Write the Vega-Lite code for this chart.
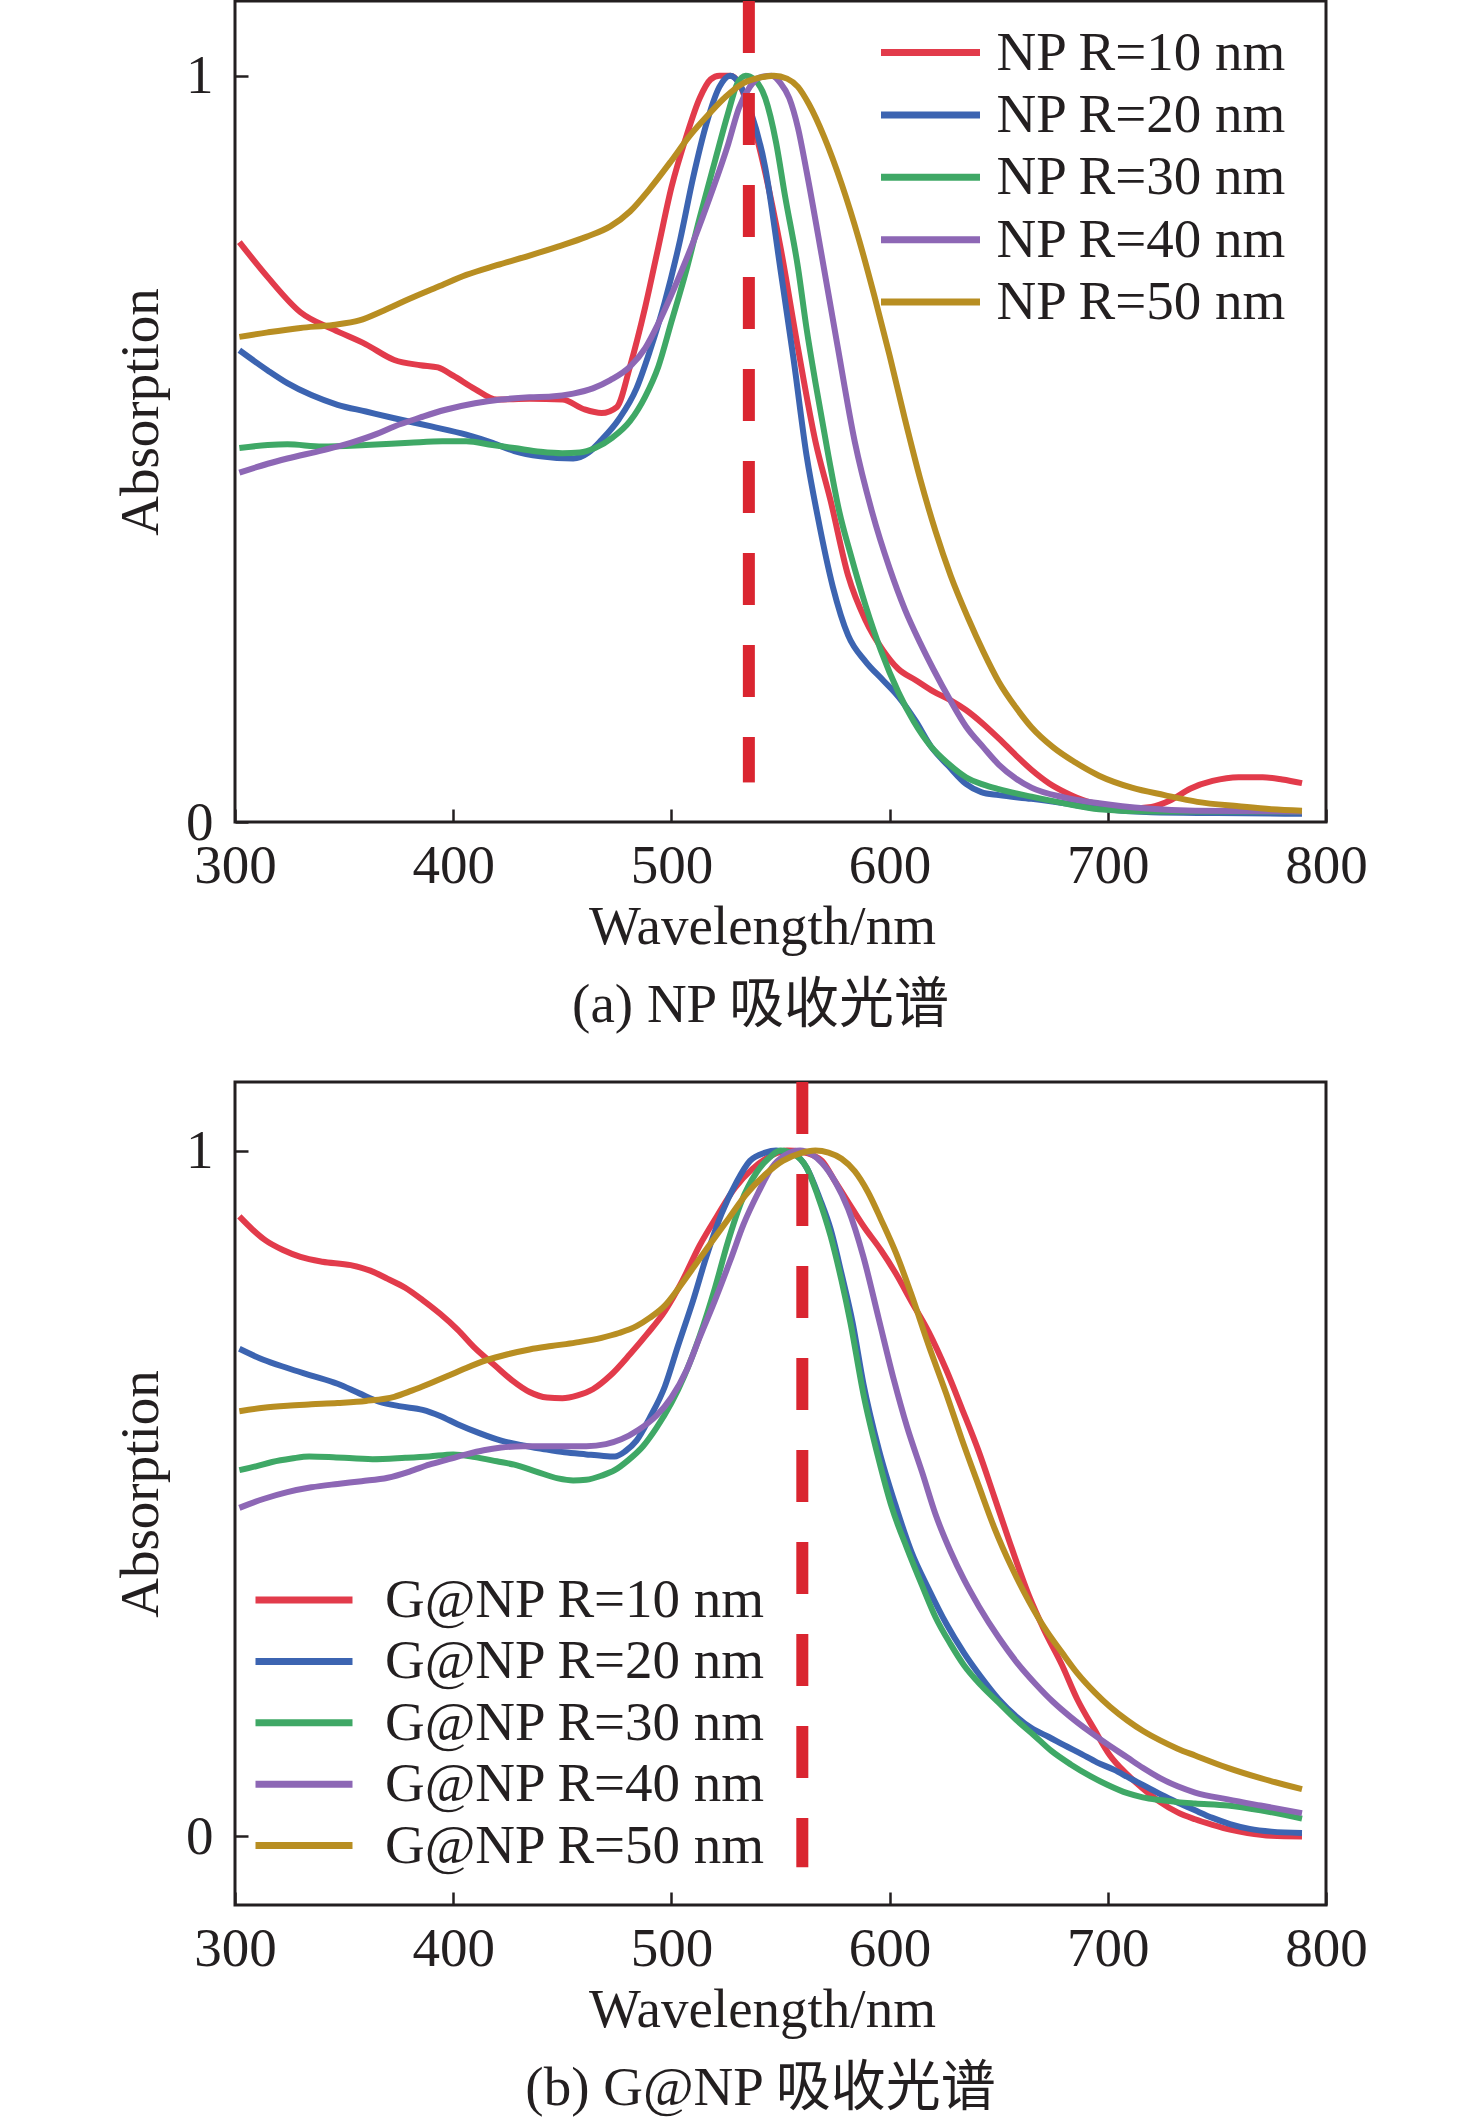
{
  "$schema": "https://vega.github.io/schema/vega-lite/v6.json",
  "description": "Absorption spectra of NP and G@NP particles of different radius, with the peak position marked by a dashed line.",
  "background": "white",
  "padding": {"left": 112, "top": -7, "right": 0, "bottom": 0},
  "datasets": {
    "np": [
      {"s": "NP R=10 nm", "wl": 302, "a": 0.777}, {"s": "NP R=10 nm", "wl": 315, "a": 0.73}, {"s": "NP R=10 nm", "wl": 330, "a": 0.683}, {"s": "NP R=10 nm", "wl": 345, "a": 0.66}, {"s": "NP R=10 nm", "wl": 360, "a": 0.64}, {"s": "NP R=10 nm", "wl": 373, "a": 0.619}, {"s": "NP R=10 nm", "wl": 385, "a": 0.612}, {"s": "NP R=10 nm", "wl": 393, "a": 0.609}, {"s": "NP R=10 nm", "wl": 400, "a": 0.598}, {"s": "NP R=10 nm", "wl": 410, "a": 0.58}, {"s": "NP R=10 nm", "wl": 420, "a": 0.566}, {"s": "NP R=10 nm", "wl": 435, "a": 0.567}, {"s": "NP R=10 nm", "wl": 450, "a": 0.566}, {"s": "NP R=10 nm", "wl": 460, "a": 0.553}, {"s": "NP R=10 nm", "wl": 468, "a": 0.548}, {"s": "NP R=10 nm", "wl": 475, "a": 0.556}, {"s": "NP R=10 nm", "wl": 481, "a": 0.61}, {"s": "NP R=10 nm", "wl": 488, "a": 0.69}, {"s": "NP R=10 nm", "wl": 494, "a": 0.77}, {"s": "NP R=10 nm", "wl": 500, "a": 0.85}, {"s": "NP R=10 nm", "wl": 507, "a": 0.92}, {"s": "NP R=10 nm", "wl": 513, "a": 0.97}, {"s": "NP R=10 nm", "wl": 518, "a": 0.995}, {"s": "NP R=10 nm", "wl": 522, "a": 1.0}, {"s": "NP R=10 nm", "wl": 527, "a": 1.0}, {"s": "NP R=10 nm", "wl": 531, "a": 0.99}, {"s": "NP R=10 nm", "wl": 536, "a": 0.95}, {"s": "NP R=10 nm", "wl": 543, "a": 0.87}, {"s": "NP R=10 nm", "wl": 550, "a": 0.77}, {"s": "NP R=10 nm", "wl": 558, "a": 0.635}, {"s": "NP R=10 nm", "wl": 566, "a": 0.51}, {"s": "NP R=10 nm", "wl": 573, "a": 0.43}, {"s": "NP R=10 nm", "wl": 581, "a": 0.33}, {"s": "NP R=10 nm", "wl": 589, "a": 0.27}, {"s": "NP R=10 nm", "wl": 597, "a": 0.23}, {"s": "NP R=10 nm", "wl": 604, "a": 0.205}, {"s": "NP R=10 nm", "wl": 612, "a": 0.19}, {"s": "NP R=10 nm", "wl": 620, "a": 0.175}, {"s": "NP R=10 nm", "wl": 628, "a": 0.163}, {"s": "NP R=10 nm", "wl": 635, "a": 0.15}, {"s": "NP R=10 nm", "wl": 643, "a": 0.131}, {"s": "NP R=10 nm", "wl": 650, "a": 0.112}, {"s": "NP R=10 nm", "wl": 658, "a": 0.089}, {"s": "NP R=10 nm", "wl": 665, "a": 0.07}, {"s": "NP R=10 nm", "wl": 673, "a": 0.052}, {"s": "NP R=10 nm", "wl": 681, "a": 0.039}, {"s": "NP R=10 nm", "wl": 690, "a": 0.028}, {"s": "NP R=10 nm", "wl": 700, "a": 0.022}, {"s": "NP R=10 nm", "wl": 711, "a": 0.018}, {"s": "NP R=10 nm", "wl": 720, "a": 0.02}, {"s": "NP R=10 nm", "wl": 728, "a": 0.028}, {"s": "NP R=10 nm", "wl": 738, "a": 0.045}, {"s": "NP R=10 nm", "wl": 748, "a": 0.055}, {"s": "NP R=10 nm", "wl": 760, "a": 0.06}, {"s": "NP R=10 nm", "wl": 771, "a": 0.06}, {"s": "NP R=10 nm", "wl": 780, "a": 0.057}, {"s": "NP R=10 nm", "wl": 789, "a": 0.052},
      {"s": "NP R=20 nm", "wl": 302, "a": 0.632}, {"s": "NP R=20 nm", "wl": 315, "a": 0.605}, {"s": "NP R=20 nm", "wl": 324, "a": 0.588}, {"s": "NP R=20 nm", "wl": 335, "a": 0.572}, {"s": "NP R=20 nm", "wl": 347, "a": 0.559}, {"s": "NP R=20 nm", "wl": 360, "a": 0.55}, {"s": "NP R=20 nm", "wl": 373, "a": 0.541}, {"s": "NP R=20 nm", "wl": 390, "a": 0.53}, {"s": "NP R=20 nm", "wl": 406, "a": 0.519}, {"s": "NP R=20 nm", "wl": 418, "a": 0.508}, {"s": "NP R=20 nm", "wl": 428, "a": 0.497}, {"s": "NP R=20 nm", "wl": 440, "a": 0.49}, {"s": "NP R=20 nm", "wl": 455, "a": 0.487}, {"s": "NP R=20 nm", "wl": 462, "a": 0.495}, {"s": "NP R=20 nm", "wl": 468, "a": 0.512}, {"s": "NP R=20 nm", "wl": 476, "a": 0.54}, {"s": "NP R=20 nm", "wl": 484, "a": 0.581}, {"s": "NP R=20 nm", "wl": 490, "a": 0.63}, {"s": "NP R=20 nm", "wl": 497, "a": 0.697}, {"s": "NP R=20 nm", "wl": 504, "a": 0.78}, {"s": "NP R=20 nm", "wl": 510, "a": 0.864}, {"s": "NP R=20 nm", "wl": 516, "a": 0.935}, {"s": "NP R=20 nm", "wl": 522, "a": 0.985}, {"s": "NP R=20 nm", "wl": 527, "a": 1.0}, {"s": "NP R=20 nm", "wl": 531, "a": 0.99}, {"s": "NP R=20 nm", "wl": 536, "a": 0.955}, {"s": "NP R=20 nm", "wl": 543, "a": 0.877}, {"s": "NP R=20 nm", "wl": 550, "a": 0.74}, {"s": "NP R=20 nm", "wl": 556, "a": 0.62}, {"s": "NP R=20 nm", "wl": 562, "a": 0.49}, {"s": "NP R=20 nm", "wl": 567, "a": 0.41}, {"s": "NP R=20 nm", "wl": 574, "a": 0.315}, {"s": "NP R=20 nm", "wl": 581, "a": 0.25}, {"s": "NP R=20 nm", "wl": 589, "a": 0.215}, {"s": "NP R=20 nm", "wl": 597, "a": 0.19}, {"s": "NP R=20 nm", "wl": 604, "a": 0.168}, {"s": "NP R=20 nm", "wl": 612, "a": 0.135}, {"s": "NP R=20 nm", "wl": 619, "a": 0.101}, {"s": "NP R=20 nm", "wl": 627, "a": 0.075}, {"s": "NP R=20 nm", "wl": 635, "a": 0.051}, {"s": "NP R=20 nm", "wl": 642, "a": 0.04}, {"s": "NP R=20 nm", "wl": 650, "a": 0.036}, {"s": "NP R=20 nm", "wl": 665, "a": 0.031}, {"s": "NP R=20 nm", "wl": 680, "a": 0.025}, {"s": "NP R=20 nm", "wl": 696, "a": 0.018}, {"s": "NP R=20 nm", "wl": 720, "a": 0.013}, {"s": "NP R=20 nm", "wl": 750, "a": 0.012}, {"s": "NP R=20 nm", "wl": 789, "a": 0.011},
      {"s": "NP R=30 nm", "wl": 302, "a": 0.501}, {"s": "NP R=30 nm", "wl": 315, "a": 0.505}, {"s": "NP R=30 nm", "wl": 324, "a": 0.506}, {"s": "NP R=30 nm", "wl": 340, "a": 0.503}, {"s": "NP R=30 nm", "wl": 360, "a": 0.505}, {"s": "NP R=30 nm", "wl": 380, "a": 0.508}, {"s": "NP R=30 nm", "wl": 395, "a": 0.51}, {"s": "NP R=30 nm", "wl": 406, "a": 0.51}, {"s": "NP R=30 nm", "wl": 418, "a": 0.505}, {"s": "NP R=30 nm", "wl": 428, "a": 0.501}, {"s": "NP R=30 nm", "wl": 440, "a": 0.496}, {"s": "NP R=30 nm", "wl": 450, "a": 0.494}, {"s": "NP R=30 nm", "wl": 458, "a": 0.495}, {"s": "NP R=30 nm", "wl": 465, "a": 0.501}, {"s": "NP R=30 nm", "wl": 473, "a": 0.515}, {"s": "NP R=30 nm", "wl": 481, "a": 0.537}, {"s": "NP R=30 nm", "wl": 488, "a": 0.57}, {"s": "NP R=30 nm", "wl": 494, "a": 0.61}, {"s": "NP R=30 nm", "wl": 500, "a": 0.67}, {"s": "NP R=30 nm", "wl": 507, "a": 0.741}, {"s": "NP R=30 nm", "wl": 513, "a": 0.81}, {"s": "NP R=30 nm", "wl": 520, "a": 0.886}, {"s": "NP R=30 nm", "wl": 526, "a": 0.95}, {"s": "NP R=30 nm", "wl": 530, "a": 0.988}, {"s": "NP R=30 nm", "wl": 534, "a": 1.0}, {"s": "NP R=30 nm", "wl": 538, "a": 0.995}, {"s": "NP R=30 nm", "wl": 543, "a": 0.97}, {"s": "NP R=30 nm", "wl": 548, "a": 0.91}, {"s": "NP R=30 nm", "wl": 552, "a": 0.84}, {"s": "NP R=30 nm", "wl": 558, "a": 0.743}, {"s": "NP R=30 nm", "wl": 562, "a": 0.66}, {"s": "NP R=30 nm", "wl": 566, "a": 0.589}, {"s": "NP R=30 nm", "wl": 572, "a": 0.49}, {"s": "NP R=30 nm", "wl": 577, "a": 0.415}, {"s": "NP R=30 nm", "wl": 582, "a": 0.36}, {"s": "NP R=30 nm", "wl": 589, "a": 0.29}, {"s": "NP R=30 nm", "wl": 596, "a": 0.23}, {"s": "NP R=30 nm", "wl": 604, "a": 0.174}, {"s": "NP R=30 nm", "wl": 611, "a": 0.135}, {"s": "NP R=30 nm", "wl": 619, "a": 0.101}, {"s": "NP R=30 nm", "wl": 627, "a": 0.078}, {"s": "NP R=30 nm", "wl": 635, "a": 0.06}, {"s": "NP R=30 nm", "wl": 643, "a": 0.05}, {"s": "NP R=30 nm", "wl": 650, "a": 0.044}, {"s": "NP R=30 nm", "wl": 665, "a": 0.034}, {"s": "NP R=30 nm", "wl": 680, "a": 0.025}, {"s": "NP R=30 nm", "wl": 696, "a": 0.017}, {"s": "NP R=30 nm", "wl": 720, "a": 0.014}, {"s": "NP R=30 nm", "wl": 789, "a": 0.014},
      {"s": "NP R=40 nm", "wl": 302, "a": 0.468}, {"s": "NP R=40 nm", "wl": 315, "a": 0.48}, {"s": "NP R=40 nm", "wl": 324, "a": 0.487}, {"s": "NP R=40 nm", "wl": 340, "a": 0.498}, {"s": "NP R=40 nm", "wl": 353, "a": 0.508}, {"s": "NP R=40 nm", "wl": 365, "a": 0.52}, {"s": "NP R=40 nm", "wl": 373, "a": 0.53}, {"s": "NP R=40 nm", "wl": 385, "a": 0.542}, {"s": "NP R=40 nm", "wl": 396, "a": 0.552}, {"s": "NP R=40 nm", "wl": 410, "a": 0.561}, {"s": "NP R=40 nm", "wl": 422, "a": 0.566}, {"s": "NP R=40 nm", "wl": 435, "a": 0.569}, {"s": "NP R=40 nm", "wl": 445, "a": 0.57}, {"s": "NP R=40 nm", "wl": 455, "a": 0.574}, {"s": "NP R=40 nm", "wl": 464, "a": 0.581}, {"s": "NP R=40 nm", "wl": 472, "a": 0.592}, {"s": "NP R=40 nm", "wl": 481, "a": 0.61}, {"s": "NP R=40 nm", "wl": 488, "a": 0.635}, {"s": "NP R=40 nm", "wl": 494, "a": 0.668}, {"s": "NP R=40 nm", "wl": 502, "a": 0.72}, {"s": "NP R=40 nm", "wl": 510, "a": 0.777}, {"s": "NP R=40 nm", "wl": 518, "a": 0.84}, {"s": "NP R=40 nm", "wl": 526, "a": 0.908}, {"s": "NP R=40 nm", "wl": 531, "a": 0.957}, {"s": "NP R=40 nm", "wl": 536, "a": 0.985}, {"s": "NP R=40 nm", "wl": 540, "a": 0.997}, {"s": "NP R=40 nm", "wl": 546, "a": 1.0}, {"s": "NP R=40 nm", "wl": 550, "a": 0.99}, {"s": "NP R=40 nm", "wl": 554, "a": 0.97}, {"s": "NP R=40 nm", "wl": 558, "a": 0.93}, {"s": "NP R=40 nm", "wl": 562, "a": 0.871}, {"s": "NP R=40 nm", "wl": 569, "a": 0.757}, {"s": "NP R=40 nm", "wl": 576, "a": 0.64}, {"s": "NP R=40 nm", "wl": 584, "a": 0.51}, {"s": "NP R=40 nm", "wl": 592, "a": 0.415}, {"s": "NP R=40 nm", "wl": 600, "a": 0.34}, {"s": "NP R=40 nm", "wl": 607, "a": 0.285}, {"s": "NP R=40 nm", "wl": 614, "a": 0.24}, {"s": "NP R=40 nm", "wl": 620, "a": 0.205}, {"s": "NP R=40 nm", "wl": 628, "a": 0.162}, {"s": "NP R=40 nm", "wl": 635, "a": 0.128}, {"s": "NP R=40 nm", "wl": 643, "a": 0.1}, {"s": "NP R=40 nm", "wl": 650, "a": 0.077}, {"s": "NP R=40 nm", "wl": 658, "a": 0.058}, {"s": "NP R=40 nm", "wl": 665, "a": 0.046}, {"s": "NP R=40 nm", "wl": 680, "a": 0.033}, {"s": "NP R=40 nm", "wl": 696, "a": 0.025}, {"s": "NP R=40 nm", "wl": 718, "a": 0.018}, {"s": "NP R=40 nm", "wl": 740, "a": 0.015}, {"s": "NP R=40 nm", "wl": 789, "a": 0.014},
      {"s": "NP R=50 nm", "wl": 302, "a": 0.65}, {"s": "NP R=50 nm", "wl": 315, "a": 0.656}, {"s": "NP R=50 nm", "wl": 330, "a": 0.662}, {"s": "NP R=50 nm", "wl": 345, "a": 0.666}, {"s": "NP R=50 nm", "wl": 357, "a": 0.672}, {"s": "NP R=50 nm", "wl": 368, "a": 0.685}, {"s": "NP R=50 nm", "wl": 380, "a": 0.701}, {"s": "NP R=50 nm", "wl": 393, "a": 0.717}, {"s": "NP R=50 nm", "wl": 406, "a": 0.733}, {"s": "NP R=50 nm", "wl": 420, "a": 0.746}, {"s": "NP R=50 nm", "wl": 435, "a": 0.759}, {"s": "NP R=50 nm", "wl": 448, "a": 0.771}, {"s": "NP R=50 nm", "wl": 461, "a": 0.784}, {"s": "NP R=50 nm", "wl": 472, "a": 0.798}, {"s": "NP R=50 nm", "wl": 481, "a": 0.818}, {"s": "NP R=50 nm", "wl": 490, "a": 0.848}, {"s": "NP R=50 nm", "wl": 500, "a": 0.886}, {"s": "NP R=50 nm", "wl": 508, "a": 0.918}, {"s": "NP R=50 nm", "wl": 517, "a": 0.948}, {"s": "NP R=50 nm", "wl": 525, "a": 0.972}, {"s": "NP R=50 nm", "wl": 533, "a": 0.99}, {"s": "NP R=50 nm", "wl": 540, "a": 0.997}, {"s": "NP R=50 nm", "wl": 547, "a": 1.0}, {"s": "NP R=50 nm", "wl": 553, "a": 0.996}, {"s": "NP R=50 nm", "wl": 558, "a": 0.985}, {"s": "NP R=50 nm", "wl": 563, "a": 0.962}, {"s": "NP R=50 nm", "wl": 570, "a": 0.918}, {"s": "NP R=50 nm", "wl": 578, "a": 0.855}, {"s": "NP R=50 nm", "wl": 586, "a": 0.78}, {"s": "NP R=50 nm", "wl": 593, "a": 0.705}, {"s": "NP R=50 nm", "wl": 600, "a": 0.625}, {"s": "NP R=50 nm", "wl": 607, "a": 0.54}, {"s": "NP R=50 nm", "wl": 614, "a": 0.46}, {"s": "NP R=50 nm", "wl": 621, "a": 0.39}, {"s": "NP R=50 nm", "wl": 628, "a": 0.33}, {"s": "NP R=50 nm", "wl": 636, "a": 0.273}, {"s": "NP R=50 nm", "wl": 643, "a": 0.228}, {"s": "NP R=50 nm", "wl": 650, "a": 0.188}, {"s": "NP R=50 nm", "wl": 658, "a": 0.153}, {"s": "NP R=50 nm", "wl": 665, "a": 0.127}, {"s": "NP R=50 nm", "wl": 675, "a": 0.1}, {"s": "NP R=50 nm", "wl": 685, "a": 0.08}, {"s": "NP R=50 nm", "wl": 696, "a": 0.062}, {"s": "NP R=50 nm", "wl": 711, "a": 0.046}, {"s": "NP R=50 nm", "wl": 726, "a": 0.036}, {"s": "NP R=50 nm", "wl": 741, "a": 0.027}, {"s": "NP R=50 nm", "wl": 760, "a": 0.021}, {"s": "NP R=50 nm", "wl": 775, "a": 0.017}, {"s": "NP R=50 nm", "wl": 789, "a": 0.015}
    ],
    "gnp": [
      {"s": "G@NP R=10 nm", "wl": 302, "a": 0.904}, {"s": "G@NP R=10 nm", "wl": 308, "a": 0.885}, {"s": "G@NP R=10 nm", "wl": 314, "a": 0.869}, {"s": "G@NP R=10 nm", "wl": 322, "a": 0.855}, {"s": "G@NP R=10 nm", "wl": 330, "a": 0.845}, {"s": "G@NP R=10 nm", "wl": 340, "a": 0.838}, {"s": "G@NP R=10 nm", "wl": 353, "a": 0.833}, {"s": "G@NP R=10 nm", "wl": 362, "a": 0.825}, {"s": "G@NP R=10 nm", "wl": 370, "a": 0.813}, {"s": "G@NP R=10 nm", "wl": 378, "a": 0.8}, {"s": "G@NP R=10 nm", "wl": 386, "a": 0.782}, {"s": "G@NP R=10 nm", "wl": 394, "a": 0.762}, {"s": "G@NP R=10 nm", "wl": 402, "a": 0.739}, {"s": "G@NP R=10 nm", "wl": 410, "a": 0.712}, {"s": "G@NP R=10 nm", "wl": 419, "a": 0.687}, {"s": "G@NP R=10 nm", "wl": 427, "a": 0.665}, {"s": "G@NP R=10 nm", "wl": 435, "a": 0.648}, {"s": "G@NP R=10 nm", "wl": 443, "a": 0.64}, {"s": "G@NP R=10 nm", "wl": 450, "a": 0.639}, {"s": "G@NP R=10 nm", "wl": 457, "a": 0.643}, {"s": "G@NP R=10 nm", "wl": 464, "a": 0.652}, {"s": "G@NP R=10 nm", "wl": 472, "a": 0.672}, {"s": "G@NP R=10 nm", "wl": 481, "a": 0.703}, {"s": "G@NP R=10 nm", "wl": 489, "a": 0.733}, {"s": "G@NP R=10 nm", "wl": 497, "a": 0.766}, {"s": "G@NP R=10 nm", "wl": 505, "a": 0.81}, {"s": "G@NP R=10 nm", "wl": 513, "a": 0.862}, {"s": "G@NP R=10 nm", "wl": 521, "a": 0.905}, {"s": "G@NP R=10 nm", "wl": 529, "a": 0.945}, {"s": "G@NP R=10 nm", "wl": 537, "a": 0.973}, {"s": "G@NP R=10 nm", "wl": 546, "a": 0.993}, {"s": "G@NP R=10 nm", "wl": 553, "a": 1.0}, {"s": "G@NP R=10 nm", "wl": 560, "a": 0.998}, {"s": "G@NP R=10 nm", "wl": 565, "a": 0.993}, {"s": "G@NP R=10 nm", "wl": 569, "a": 0.985}, {"s": "G@NP R=10 nm", "wl": 575, "a": 0.955}, {"s": "G@NP R=10 nm", "wl": 581, "a": 0.925}, {"s": "G@NP R=10 nm", "wl": 588, "a": 0.89}, {"s": "G@NP R=10 nm", "wl": 596, "a": 0.855}, {"s": "G@NP R=10 nm", "wl": 603, "a": 0.82}, {"s": "G@NP R=10 nm", "wl": 610, "a": 0.78}, {"s": "G@NP R=10 nm", "wl": 618, "a": 0.735}, {"s": "G@NP R=10 nm", "wl": 626, "a": 0.68}, {"s": "G@NP R=10 nm", "wl": 633, "a": 0.625}, {"s": "G@NP R=10 nm", "wl": 641, "a": 0.56}, {"s": "G@NP R=10 nm", "wl": 648, "a": 0.495}, {"s": "G@NP R=10 nm", "wl": 656, "a": 0.42}, {"s": "G@NP R=10 nm", "wl": 664, "a": 0.35}, {"s": "G@NP R=10 nm", "wl": 671, "a": 0.3}, {"s": "G@NP R=10 nm", "wl": 679, "a": 0.25}, {"s": "G@NP R=10 nm", "wl": 686, "a": 0.2}, {"s": "G@NP R=10 nm", "wl": 694, "a": 0.155}, {"s": "G@NP R=10 nm", "wl": 701, "a": 0.118}, {"s": "G@NP R=10 nm", "wl": 709, "a": 0.09}, {"s": "G@NP R=10 nm", "wl": 716, "a": 0.07}, {"s": "G@NP R=10 nm", "wl": 724, "a": 0.05}, {"s": "G@NP R=10 nm", "wl": 732, "a": 0.035}, {"s": "G@NP R=10 nm", "wl": 740, "a": 0.025}, {"s": "G@NP R=10 nm", "wl": 748, "a": 0.017}, {"s": "G@NP R=10 nm", "wl": 756, "a": 0.01}, {"s": "G@NP R=10 nm", "wl": 764, "a": 0.005}, {"s": "G@NP R=10 nm", "wl": 775, "a": 0.001}, {"s": "G@NP R=10 nm", "wl": 789, "a": 0.0},
      {"s": "G@NP R=20 nm", "wl": 302, "a": 0.711}, {"s": "G@NP R=20 nm", "wl": 313, "a": 0.695}, {"s": "G@NP R=20 nm", "wl": 324, "a": 0.683}, {"s": "G@NP R=20 nm", "wl": 335, "a": 0.672}, {"s": "G@NP R=20 nm", "wl": 347, "a": 0.66}, {"s": "G@NP R=20 nm", "wl": 357, "a": 0.646}, {"s": "G@NP R=20 nm", "wl": 366, "a": 0.634}, {"s": "G@NP R=20 nm", "wl": 376, "a": 0.627}, {"s": "G@NP R=20 nm", "wl": 386, "a": 0.622}, {"s": "G@NP R=20 nm", "wl": 394, "a": 0.613}, {"s": "G@NP R=20 nm", "wl": 402, "a": 0.601}, {"s": "G@NP R=20 nm", "wl": 412, "a": 0.588}, {"s": "G@NP R=20 nm", "wl": 422, "a": 0.577}, {"s": "G@NP R=20 nm", "wl": 432, "a": 0.57}, {"s": "G@NP R=20 nm", "wl": 441, "a": 0.565}, {"s": "G@NP R=20 nm", "wl": 451, "a": 0.56}, {"s": "G@NP R=20 nm", "wl": 461, "a": 0.557}, {"s": "G@NP R=20 nm", "wl": 468, "a": 0.555}, {"s": "G@NP R=20 nm", "wl": 474, "a": 0.554}, {"s": "G@NP R=20 nm", "wl": 479, "a": 0.562}, {"s": "G@NP R=20 nm", "wl": 484, "a": 0.577}, {"s": "G@NP R=20 nm", "wl": 490, "a": 0.61}, {"s": "G@NP R=20 nm", "wl": 497, "a": 0.656}, {"s": "G@NP R=20 nm", "wl": 503, "a": 0.715}, {"s": "G@NP R=20 nm", "wl": 510, "a": 0.782}, {"s": "G@NP R=20 nm", "wl": 516, "a": 0.845}, {"s": "G@NP R=20 nm", "wl": 523, "a": 0.908}, {"s": "G@NP R=20 nm", "wl": 530, "a": 0.955}, {"s": "G@NP R=20 nm", "wl": 536, "a": 0.985}, {"s": "G@NP R=20 nm", "wl": 543, "a": 0.997}, {"s": "G@NP R=20 nm", "wl": 548, "a": 1.0}, {"s": "G@NP R=20 nm", "wl": 556, "a": 0.995}, {"s": "G@NP R=20 nm", "wl": 562, "a": 0.975}, {"s": "G@NP R=20 nm", "wl": 568, "a": 0.93}, {"s": "G@NP R=20 nm", "wl": 573, "a": 0.885}, {"s": "G@NP R=20 nm", "wl": 578, "a": 0.82}, {"s": "G@NP R=20 nm", "wl": 583, "a": 0.75}, {"s": "G@NP R=20 nm", "wl": 588, "a": 0.66}, {"s": "G@NP R=20 nm", "wl": 595, "a": 0.565}, {"s": "G@NP R=20 nm", "wl": 603, "a": 0.48}, {"s": "G@NP R=20 nm", "wl": 610, "a": 0.415}, {"s": "G@NP R=20 nm", "wl": 618, "a": 0.36}, {"s": "G@NP R=20 nm", "wl": 626, "a": 0.31}, {"s": "G@NP R=20 nm", "wl": 634, "a": 0.268}, {"s": "G@NP R=20 nm", "wl": 642, "a": 0.232}, {"s": "G@NP R=20 nm", "wl": 650, "a": 0.2}, {"s": "G@NP R=20 nm", "wl": 658, "a": 0.175}, {"s": "G@NP R=20 nm", "wl": 665, "a": 0.158}, {"s": "G@NP R=20 nm", "wl": 673, "a": 0.145}, {"s": "G@NP R=20 nm", "wl": 680, "a": 0.133}, {"s": "G@NP R=20 nm", "wl": 688, "a": 0.12}, {"s": "G@NP R=20 nm", "wl": 695, "a": 0.108}, {"s": "G@NP R=20 nm", "wl": 703, "a": 0.097}, {"s": "G@NP R=20 nm", "wl": 710, "a": 0.085}, {"s": "G@NP R=20 nm", "wl": 718, "a": 0.072}, {"s": "G@NP R=20 nm", "wl": 725, "a": 0.06}, {"s": "G@NP R=20 nm", "wl": 733, "a": 0.048}, {"s": "G@NP R=20 nm", "wl": 740, "a": 0.038}, {"s": "G@NP R=20 nm", "wl": 748, "a": 0.027}, {"s": "G@NP R=20 nm", "wl": 756, "a": 0.018}, {"s": "G@NP R=20 nm", "wl": 765, "a": 0.011}, {"s": "G@NP R=20 nm", "wl": 775, "a": 0.007}, {"s": "G@NP R=20 nm", "wl": 789, "a": 0.005},
      {"s": "G@NP R=30 nm", "wl": 302, "a": 0.534}, {"s": "G@NP R=30 nm", "wl": 310, "a": 0.54}, {"s": "G@NP R=30 nm", "wl": 317, "a": 0.546}, {"s": "G@NP R=30 nm", "wl": 326, "a": 0.551}, {"s": "G@NP R=30 nm", "wl": 334, "a": 0.554}, {"s": "G@NP R=30 nm", "wl": 345, "a": 0.553}, {"s": "G@NP R=30 nm", "wl": 363, "a": 0.55}, {"s": "G@NP R=30 nm", "wl": 378, "a": 0.552}, {"s": "G@NP R=30 nm", "wl": 389, "a": 0.554}, {"s": "G@NP R=30 nm", "wl": 400, "a": 0.557}, {"s": "G@NP R=30 nm", "wl": 410, "a": 0.553}, {"s": "G@NP R=30 nm", "wl": 420, "a": 0.547}, {"s": "G@NP R=30 nm", "wl": 428, "a": 0.542}, {"s": "G@NP R=30 nm", "wl": 438, "a": 0.532}, {"s": "G@NP R=30 nm", "wl": 448, "a": 0.522}, {"s": "G@NP R=30 nm", "wl": 455, "a": 0.519}, {"s": "G@NP R=30 nm", "wl": 461, "a": 0.52}, {"s": "G@NP R=30 nm", "wl": 468, "a": 0.526}, {"s": "G@NP R=30 nm", "wl": 474, "a": 0.534}, {"s": "G@NP R=30 nm", "wl": 480, "a": 0.548}, {"s": "G@NP R=30 nm", "wl": 487, "a": 0.569}, {"s": "G@NP R=30 nm", "wl": 493, "a": 0.595}, {"s": "G@NP R=30 nm", "wl": 500, "a": 0.632}, {"s": "G@NP R=30 nm", "wl": 506, "a": 0.672}, {"s": "G@NP R=30 nm", "wl": 513, "a": 0.73}, {"s": "G@NP R=30 nm", "wl": 520, "a": 0.8}, {"s": "G@NP R=30 nm", "wl": 526, "a": 0.868}, {"s": "G@NP R=30 nm", "wl": 532, "a": 0.925}, {"s": "G@NP R=30 nm", "wl": 539, "a": 0.968}, {"s": "G@NP R=30 nm", "wl": 545, "a": 0.99}, {"s": "G@NP R=30 nm", "wl": 550, "a": 1.0}, {"s": "G@NP R=30 nm", "wl": 556, "a": 0.995}, {"s": "G@NP R=30 nm", "wl": 562, "a": 0.975}, {"s": "G@NP R=30 nm", "wl": 567, "a": 0.935}, {"s": "G@NP R=30 nm", "wl": 573, "a": 0.875}, {"s": "G@NP R=30 nm", "wl": 578, "a": 0.81}, {"s": "G@NP R=30 nm", "wl": 582, "a": 0.75}, {"s": "G@NP R=30 nm", "wl": 588, "a": 0.645}, {"s": "G@NP R=30 nm", "wl": 595, "a": 0.55}, {"s": "G@NP R=30 nm", "wl": 601, "a": 0.48}, {"s": "G@NP R=30 nm", "wl": 608, "a": 0.42}, {"s": "G@NP R=30 nm", "wl": 615, "a": 0.365}, {"s": "G@NP R=30 nm", "wl": 621, "a": 0.32}, {"s": "G@NP R=30 nm", "wl": 628, "a": 0.28}, {"s": "G@NP R=30 nm", "wl": 634, "a": 0.25}, {"s": "G@NP R=30 nm", "wl": 642, "a": 0.22}, {"s": "G@NP R=30 nm", "wl": 650, "a": 0.195}, {"s": "G@NP R=30 nm", "wl": 658, "a": 0.17}, {"s": "G@NP R=30 nm", "wl": 666, "a": 0.148}, {"s": "G@NP R=30 nm", "wl": 674, "a": 0.125}, {"s": "G@NP R=30 nm", "wl": 683, "a": 0.105}, {"s": "G@NP R=30 nm", "wl": 692, "a": 0.088}, {"s": "G@NP R=30 nm", "wl": 700, "a": 0.075}, {"s": "G@NP R=30 nm", "wl": 709, "a": 0.063}, {"s": "G@NP R=30 nm", "wl": 716, "a": 0.057}, {"s": "G@NP R=30 nm", "wl": 724, "a": 0.053}, {"s": "G@NP R=30 nm", "wl": 732, "a": 0.05}, {"s": "G@NP R=30 nm", "wl": 740, "a": 0.048}, {"s": "G@NP R=30 nm", "wl": 755, "a": 0.045}, {"s": "G@NP R=30 nm", "wl": 770, "a": 0.038}, {"s": "G@NP R=30 nm", "wl": 789, "a": 0.026},
      {"s": "G@NP R=40 nm", "wl": 302, "a": 0.479}, {"s": "G@NP R=40 nm", "wl": 313, "a": 0.492}, {"s": "G@NP R=40 nm", "wl": 324, "a": 0.502}, {"s": "G@NP R=40 nm", "wl": 335, "a": 0.509}, {"s": "G@NP R=40 nm", "wl": 347, "a": 0.514}, {"s": "G@NP R=40 nm", "wl": 358, "a": 0.518}, {"s": "G@NP R=40 nm", "wl": 370, "a": 0.523}, {"s": "G@NP R=40 nm", "wl": 380, "a": 0.532}, {"s": "G@NP R=40 nm", "wl": 389, "a": 0.542}, {"s": "G@NP R=40 nm", "wl": 398, "a": 0.55}, {"s": "G@NP R=40 nm", "wl": 406, "a": 0.557}, {"s": "G@NP R=40 nm", "wl": 414, "a": 0.563}, {"s": "G@NP R=40 nm", "wl": 422, "a": 0.567}, {"s": "G@NP R=40 nm", "wl": 432, "a": 0.569}, {"s": "G@NP R=40 nm", "wl": 441, "a": 0.569}, {"s": "G@NP R=40 nm", "wl": 451, "a": 0.569}, {"s": "G@NP R=40 nm", "wl": 461, "a": 0.569}, {"s": "G@NP R=40 nm", "wl": 470, "a": 0.572}, {"s": "G@NP R=40 nm", "wl": 477, "a": 0.579}, {"s": "G@NP R=40 nm", "wl": 485, "a": 0.593}, {"s": "G@NP R=40 nm", "wl": 493, "a": 0.613}, {"s": "G@NP R=40 nm", "wl": 500, "a": 0.64}, {"s": "G@NP R=40 nm", "wl": 507, "a": 0.68}, {"s": "G@NP R=40 nm", "wl": 513, "a": 0.728}, {"s": "G@NP R=40 nm", "wl": 520, "a": 0.782}, {"s": "G@NP R=40 nm", "wl": 527, "a": 0.84}, {"s": "G@NP R=40 nm", "wl": 533, "a": 0.892}, {"s": "G@NP R=40 nm", "wl": 540, "a": 0.94}, {"s": "G@NP R=40 nm", "wl": 546, "a": 0.975}, {"s": "G@NP R=40 nm", "wl": 552, "a": 0.993}, {"s": "G@NP R=40 nm", "wl": 559, "a": 1.0}, {"s": "G@NP R=40 nm", "wl": 564, "a": 0.995}, {"s": "G@NP R=40 nm", "wl": 569, "a": 0.982}, {"s": "G@NP R=40 nm", "wl": 575, "a": 0.955}, {"s": "G@NP R=40 nm", "wl": 581, "a": 0.915}, {"s": "G@NP R=40 nm", "wl": 588, "a": 0.845}, {"s": "G@NP R=40 nm", "wl": 595, "a": 0.755}, {"s": "G@NP R=40 nm", "wl": 602, "a": 0.665}, {"s": "G@NP R=40 nm", "wl": 608, "a": 0.597}, {"s": "G@NP R=40 nm", "wl": 615, "a": 0.53}, {"s": "G@NP R=40 nm", "wl": 621, "a": 0.47}, {"s": "G@NP R=40 nm", "wl": 628, "a": 0.415}, {"s": "G@NP R=40 nm", "wl": 634, "a": 0.375}, {"s": "G@NP R=40 nm", "wl": 641, "a": 0.335}, {"s": "G@NP R=40 nm", "wl": 650, "a": 0.29}, {"s": "G@NP R=40 nm", "wl": 658, "a": 0.255}, {"s": "G@NP R=40 nm", "wl": 667, "a": 0.222}, {"s": "G@NP R=40 nm", "wl": 675, "a": 0.196}, {"s": "G@NP R=40 nm", "wl": 683, "a": 0.174}, {"s": "G@NP R=40 nm", "wl": 692, "a": 0.152}, {"s": "G@NP R=40 nm", "wl": 700, "a": 0.134}, {"s": "G@NP R=40 nm", "wl": 709, "a": 0.115}, {"s": "G@NP R=40 nm", "wl": 716, "a": 0.1}, {"s": "G@NP R=40 nm", "wl": 724, "a": 0.085}, {"s": "G@NP R=40 nm", "wl": 732, "a": 0.073}, {"s": "G@NP R=40 nm", "wl": 740, "a": 0.064}, {"s": "G@NP R=40 nm", "wl": 755, "a": 0.054}, {"s": "G@NP R=40 nm", "wl": 770, "a": 0.045}, {"s": "G@NP R=40 nm", "wl": 789, "a": 0.034},
      {"s": "G@NP R=50 nm", "wl": 302, "a": 0.62}, {"s": "G@NP R=50 nm", "wl": 313, "a": 0.625}, {"s": "G@NP R=50 nm", "wl": 324, "a": 0.628}, {"s": "G@NP R=50 nm", "wl": 335, "a": 0.63}, {"s": "G@NP R=50 nm", "wl": 347, "a": 0.632}, {"s": "G@NP R=50 nm", "wl": 360, "a": 0.635}, {"s": "G@NP R=50 nm", "wl": 373, "a": 0.641}, {"s": "G@NP R=50 nm", "wl": 381, "a": 0.65}, {"s": "G@NP R=50 nm", "wl": 389, "a": 0.66}, {"s": "G@NP R=50 nm", "wl": 398, "a": 0.672}, {"s": "G@NP R=50 nm", "wl": 406, "a": 0.683}, {"s": "G@NP R=50 nm", "wl": 415, "a": 0.694}, {"s": "G@NP R=50 nm", "wl": 425, "a": 0.703}, {"s": "G@NP R=50 nm", "wl": 435, "a": 0.71}, {"s": "G@NP R=50 nm", "wl": 445, "a": 0.715}, {"s": "G@NP R=50 nm", "wl": 456, "a": 0.72}, {"s": "G@NP R=50 nm", "wl": 468, "a": 0.727}, {"s": "G@NP R=50 nm", "wl": 476, "a": 0.734}, {"s": "G@NP R=50 nm", "wl": 484, "a": 0.744}, {"s": "G@NP R=50 nm", "wl": 490, "a": 0.756}, {"s": "G@NP R=50 nm", "wl": 497, "a": 0.774}, {"s": "G@NP R=50 nm", "wl": 503, "a": 0.798}, {"s": "G@NP R=50 nm", "wl": 510, "a": 0.829}, {"s": "G@NP R=50 nm", "wl": 518, "a": 0.865}, {"s": "G@NP R=50 nm", "wl": 526, "a": 0.9}, {"s": "G@NP R=50 nm", "wl": 534, "a": 0.935}, {"s": "G@NP R=50 nm", "wl": 543, "a": 0.965}, {"s": "G@NP R=50 nm", "wl": 551, "a": 0.985}, {"s": "G@NP R=50 nm", "wl": 559, "a": 0.996}, {"s": "G@NP R=50 nm", "wl": 566, "a": 1.0}, {"s": "G@NP R=50 nm", "wl": 572, "a": 0.997}, {"s": "G@NP R=50 nm", "wl": 578, "a": 0.988}, {"s": "G@NP R=50 nm", "wl": 584, "a": 0.97}, {"s": "G@NP R=50 nm", "wl": 590, "a": 0.94}, {"s": "G@NP R=50 nm", "wl": 596, "a": 0.9}, {"s": "G@NP R=50 nm", "wl": 603, "a": 0.85}, {"s": "G@NP R=50 nm", "wl": 610, "a": 0.79}, {"s": "G@NP R=50 nm", "wl": 618, "a": 0.715}, {"s": "G@NP R=50 nm", "wl": 626, "a": 0.645}, {"s": "G@NP R=50 nm", "wl": 633, "a": 0.58}, {"s": "G@NP R=50 nm", "wl": 641, "a": 0.51}, {"s": "G@NP R=50 nm", "wl": 648, "a": 0.45}, {"s": "G@NP R=50 nm", "wl": 656, "a": 0.392}, {"s": "G@NP R=50 nm", "wl": 664, "a": 0.342}, {"s": "G@NP R=50 nm", "wl": 671, "a": 0.304}, {"s": "G@NP R=50 nm", "wl": 679, "a": 0.268}, {"s": "G@NP R=50 nm", "wl": 686, "a": 0.238}, {"s": "G@NP R=50 nm", "wl": 694, "a": 0.21}, {"s": "G@NP R=50 nm", "wl": 701, "a": 0.189}, {"s": "G@NP R=50 nm", "wl": 709, "a": 0.169}, {"s": "G@NP R=50 nm", "wl": 716, "a": 0.154}, {"s": "G@NP R=50 nm", "wl": 724, "a": 0.14}, {"s": "G@NP R=50 nm", "wl": 732, "a": 0.128}, {"s": "G@NP R=50 nm", "wl": 740, "a": 0.118}, {"s": "G@NP R=50 nm", "wl": 755, "a": 0.1}, {"s": "G@NP R=50 nm", "wl": 770, "a": 0.085}, {"s": "G@NP R=50 nm", "wl": 789, "a": 0.069}
    ],
    "npPeak": [{"wl": 535.5, "top": 1.1, "bottom": 0.053}],
    "gnpPeak": [{"wl": 560, "top": 1.1, "bottom": -0.045}]
  },
  "spacing": 260,
  "bounds": "flush",
  "resolve": {"scale": {"color": "independent"}, "legend": {"color": "independent"}},
  "vconcat": [
    {
      "width": 1091,
      "height": 821,
      "title": {"text": "(a) NP 吸收光谱", "orient": "bottom", "offset": 25, "dx": -20},
      "layer": [
        {
          "data": {"name": "np"},
          "mark": {"type": "line", "interpolate": "monotone", "strokeWidth": 6},
          "encoding": {
            "x": {"field": "wl", "type": "quantitative", "scale": {"domain": [300, 800]}, "axis": {"title": "Wavelength/nm", "values": [300, 400, 500, 600, 700, 800], "labelPadding": 30, "titlePadding": 7, "titleX": 527}},
            "y": {"field": "a", "type": "quantitative", "scale": {"domain": [0, 1.1]}, "axis": {"title": "Absorption", "values": [0, 1], "format": "d", "labelPadding": 35, "titlePadding": 16}},
            "color": {
              "field": "s", "type": "nominal",
              "scale": {"domain": ["NP R=10 nm", "NP R=20 nm", "NP R=30 nm", "NP R=40 nm", "NP R=50 nm"], "range": ["#E23B4B", "#3C64B1", "#3FA866", "#8D67B5", "#B88E22"]},
              "legend": {"legendX": 646, "legendY": 23, "symbolSize": 2450, "symbolOffset": 21, "labelOffset": 37.5}
            }
          }
        },
        {
          "data": {"name": "npPeak"},
          "mark": {"type": "rule", "color": "#DA2530", "strokeWidth": 12, "strokeDash": [52, 40]},
          "encoding": {
            "x": {"field": "wl", "type": "quantitative"},
            "y": {"field": "top", "type": "quantitative"},
            "y2": {"field": "bottom"}
          }
        }
      ]
    },
    {
      "width": 1091,
      "height": 823,
      "title": {"text": "(b) G@NP 吸收光谱", "orient": "bottom", "offset": 25, "dx": -20},
      "layer": [
        {
          "data": {"name": "gnp"},
          "mark": {"type": "line", "interpolate": "monotone", "strokeWidth": 6},
          "encoding": {
            "x": {"field": "wl", "type": "quantitative", "scale": {"domain": [300, 800]}, "axis": {"title": "Wavelength/nm", "values": [300, 400, 500, 600, 700, 800], "labelPadding": 30, "titlePadding": 7, "titleX": 527}},
            "y": {"field": "a", "type": "quantitative", "scale": {"domain": [-0.094, 1.1]}, "axis": {"title": "Absorption", "values": [0, 1], "format": "d", "labelPadding": 35, "titlePadding": 16}},
            "color": {
              "field": "s", "type": "nominal",
              "scale": {"domain": ["G@NP R=10 nm", "G@NP R=20 nm", "G@NP R=30 nm", "G@NP R=40 nm", "G@NP R=50 nm"], "range": ["#E23B4B", "#3C64B1", "#3FA866", "#8D67B5", "#B88E22"]},
              "legend": {"legendX": 20.5, "legendY": 490, "symbolSize": 2352, "symbolOffset": 20.5, "labelOffset": 53}
            }
          }
        },
        {
          "data": {"name": "gnpPeak"},
          "mark": {"type": "rule", "color": "#DA2530", "strokeWidth": 12, "strokeDash": [52, 40]},
          "encoding": {
            "x": {"field": "wl", "type": "quantitative"},
            "y": {"field": "top", "type": "quantitative"},
            "y2": {"field": "bottom"}
          }
        }
      ]
    }
  ],
  "config": {
    "font": "Liberation Serif",
    "view": {"stroke": "#231F20", "strokeWidth": 3},
    "axis": {
      "grid": false,
      "domain": false,
      "tickSize": -13,
      "tickWidth": 2.5,
      "tickColor": "#231F20",
      "labelFont": "Liberation Serif",
      "labelFontSize": 55,
      "labelColor": "#231F20",
      "labelFlush": false,
      "labelOverlap": false,
      "titleFont": "Liberation Serif",
      "titleFontSize": 55,
      "titleFontWeight": "normal",
      "titleColor": "#231F20"
    },
    "legend": {
      "orient": "none",
      "title": null,
      "padding": 0,
      "rowPadding": 5.4,
      "symbolType": "M-2,0L2,0",
      "symbolStrokeWidth": 7,
      "labelFont": "Liberation Serif",
      "labelFontSize": 55,
      "labelColor": "#231F20",
      "labelLimit": 0
    },
    "title": {
      "font": "Liberation Serif, Noto Sans CJK SC",
      "fontSize": 55,
      "fontWeight": "normal",
      "color": "#231F20"
    }
  }
}
